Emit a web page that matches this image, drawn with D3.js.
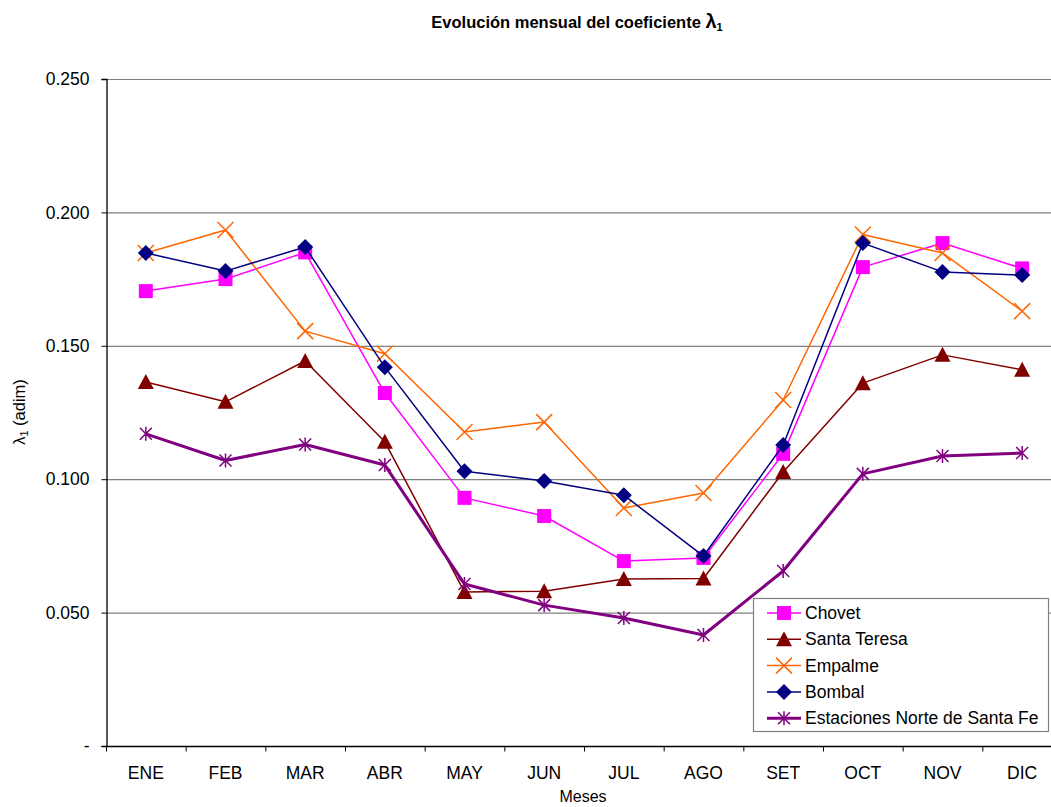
<!DOCTYPE html>
<html>
<head>
<meta charset="utf-8">
<script src="https://cdn.jsdelivr.net/npm/d3@7"></script>
<style>
  html, body { margin: 0; padding: 0; background: #fff; }
  svg { display: block; font-family: "Liberation Sans", Arial, sans-serif; }
</style>
</head>
<body>
<svg id="chart" width="1051" height="807"></svg>
<script>
// Monthly values of the lambda-1 coefficient per station
const months = ["ENE", "FEB", "MAR", "ABR", "MAY", "JUN", "JUL", "AGO", "SET", "OCT", "NOV", "DIC"];
const chovet      = [0.1705, 0.175, 0.185, 0.1323, 0.093, 0.0862, 0.0693, 0.0705, 0.1095, 0.1795, 0.1885, 0.179];
const santaTeresa = [0.1364, 0.129, 0.1443, 0.114, 0.0577, 0.058, 0.0626, 0.0628, 0.1027, 0.136, 0.1466, 0.141];
const empalme     = [0.1848, 0.1934, 0.1555, 0.147, 0.1177, 0.1214, 0.0892, 0.0948, 0.1297, 0.1917, 0.1848, 0.163];
const bombal      = [0.1848, 0.178, 0.187, 0.142, 0.103, 0.0993, 0.094, 0.0712, 0.1128, 0.1885, 0.1777, 0.1765];
const norteSF     = [0.117, 0.107, 0.113, 0.1053, 0.0607, 0.0528, 0.048, 0.0416, 0.0656, 0.102, 0.1087, 0.1098];
const yTicks = [0, 0.05, 0.10, 0.15, 0.20, 0.25];

const series = [
  { name: "Chovet", values: chovet, color: "#FF00FF", width: 1.5, marker: "square" },
  { name: "Santa Teresa", values: santaTeresa, color: "#800000", width: 1.5, marker: "triangle" },
  { name: "Empalme", values: empalme, color: "#FF6600", width: 1.5, marker: "cross" },
  { name: "Bombal", values: bombal, color: "#000080", width: 1.5, marker: "diamond" },
  { name: "Estaciones Norte de Santa Fe", values: norteSF, color: "#800080", width: 3, marker: "star" }
];

const svg = d3.select("#chart");
const plotLeft = 106, plotTop = 79, plotBottom = 746, plotRight = 1062;
const labelSize = 17.5;

const x = d3.scaleBand().domain(months).range([plotLeft, plotRight]).padding(0);
const y = d3.scaleLinear().domain([0, 0.25]).range([plotBottom, plotTop]);
const cx = m => x(m) + x.bandwidth() / 2;

// Clip everything to the visible area on the right
svg.append("defs").append("clipPath").attr("id", "clip")
  .append("rect").attr("x", 0).attr("y", 0).attr("width", 1051).attr("height", 807);

// Horizontal gridlines
svg.append("g")
  .selectAll("line").data(yTicks.filter(d => d > 0)).join("line")
  .attr("x1", plotLeft).attr("x2", 1051)
  .attr("y1", d => y(d) + 0.5).attr("y2", d => y(d) + 0.5)
  .attr("stroke", "#808080").attr("stroke-width", 1.2);

// Y axis
const yAxis = d3.axisLeft(y).tickValues(yTicks).tickSize(5).tickPadding(12)
  .tickFormat(d => d === 0 ? "-" : d3.format(".3f")(d));
const gy = svg.append("g").attr("transform", `translate(${plotLeft + 0.5},0)`).call(yAxis);
gy.select(".domain").attr("stroke", "#000").attr("stroke-width", 1.3);
gy.selectAll(".tick line").attr("stroke", "#000");
gy.selectAll(".tick text").attr("font-size", labelSize).attr("fill", "#000")
  .attr("font-family", "Liberation Sans, Arial, sans-serif");

// X axis with ticks between categories
const gx = svg.append("g").attr("transform", `translate(0,${plotBottom + 0.5})`);
gx.append("line").attr("x1", plotLeft).attr("x2", 1051).attr("y1", 0).attr("y2", 0)
  .attr("stroke", "#000").attr("stroke-width", 1.5);
gx.selectAll("line.tk").data(months).join("line").attr("class", "tk")
  .attr("x1", d => x(d) + 0.5).attr("x2", d => x(d) + 0.5)
  .attr("y1", 0).attr("y2", 5).attr("stroke", "#000");
gx.selectAll("text").data(months).join("text")
  .attr("x", d => cx(d)).attr("y", 32)
  .attr("text-anchor", "middle").attr("font-size", labelSize).attr("fill", "#000")
  .text(d => d);

// Marker shapes
function drawMarker(g, type, color, px, py) {
  if (type === "square") {
    g.append("rect").attr("x", px - 7).attr("y", py - 7).attr("width", 14).attr("height", 14)
      .attr("fill", color);
  } else if (type === "triangle") {
    g.append("path").attr("d", `M${px},${py - 8}L${px + 8},${py + 7}L${px - 8},${py + 7}Z`)
      .attr("fill", color);
  } else if (type === "diamond") {
    g.append("path").attr("d", `M${px},${py - 8}L${px + 8},${py}L${px},${py + 8}L${px - 8},${py}Z`)
      .attr("fill", color);
  } else if (type === "cross") {
    const s = 8;
    g.append("path").attr("d", `M${px - s},${py - s}L${px + s},${py + s}M${px - s},${py + s}L${px + s},${py - s}`)
      .attr("stroke", color).attr("stroke-width", 1.5).attr("fill", "none");
  } else if (type === "star") {
    const s = 6;
    g.append("path").attr("d",
      `M${px - s},${py - s}L${px + s},${py + s}M${px - s},${py + s}L${px + s},${py - s}M${px},${py - s - 1}L${px},${py + s + 1}`)
      .attr("stroke", color).attr("stroke-width", 1.5).attr("fill", "none");
  }
}

const plot = svg.append("g").attr("clip-path", "url(#clip)");
const line = d3.line().x((d, i) => cx(months[i])).y(d => y(d));

series.forEach(s => {
  const g = plot.append("g");
  g.append("path").datum(s.values).attr("d", line)
    .attr("fill", "none").attr("stroke", s.color).attr("stroke-width", s.width)
    .attr("stroke-linejoin", "round");
  s.values.forEach((v, i) => drawMarker(g, s.marker, s.color, cx(months[i]), y(v)));
});

// Legend
const lg = svg.append("g");
lg.append("rect").attr("x", 753.5).attr("y", 598.5).attr("width", 295).attr("height", 133)
  .attr("fill", "#fff").attr("stroke", "#808080").attr("stroke-width", 1.2);
series.forEach((s, i) => {
  const ly = 613 + i * 26.3;
  const row = lg.append("g");
  row.append("line").attr("x1", 767).attr("x2", 801).attr("y1", ly).attr("y2", ly)
    .attr("stroke", s.color).attr("stroke-width", s.width);
  drawMarker(row, s.marker, s.color, 784, ly);
  row.append("text").attr("x", 805).attr("y", ly + 6).attr("font-size", labelSize)
    .attr("fill", "#000").text(s.name);
});

// Title
const title = svg.append("text").attr("x", 577).attr("y", 28).attr("text-anchor", "middle")
  .attr("font-size", 16.5).attr("font-weight", "bold").attr("fill", "#000");
title.append("tspan").text("Evolución mensual del coeficiente ");
title.append("tspan").attr("font-size", 20).text("λ");
title.append("tspan").attr("font-size", 11).attr("dy", 3).text("1");

// Axis titles
const yl = svg.append("text").attr("transform", "translate(25,412) rotate(-90)")
  .attr("text-anchor", "middle").attr("font-size", 16.5).attr("fill", "#000");
yl.append("tspan").text("λ");
yl.append("tspan").attr("font-size", 11).attr("dy", 3).text("1");
yl.append("tspan").attr("dy", -3).text(" (adim)");

svg.append("text").attr("x", 583).attr("y", 802).attr("text-anchor", "middle")
  .attr("font-size", 16).attr("fill", "#000").text("Meses");
</script>
</body>
</html>
